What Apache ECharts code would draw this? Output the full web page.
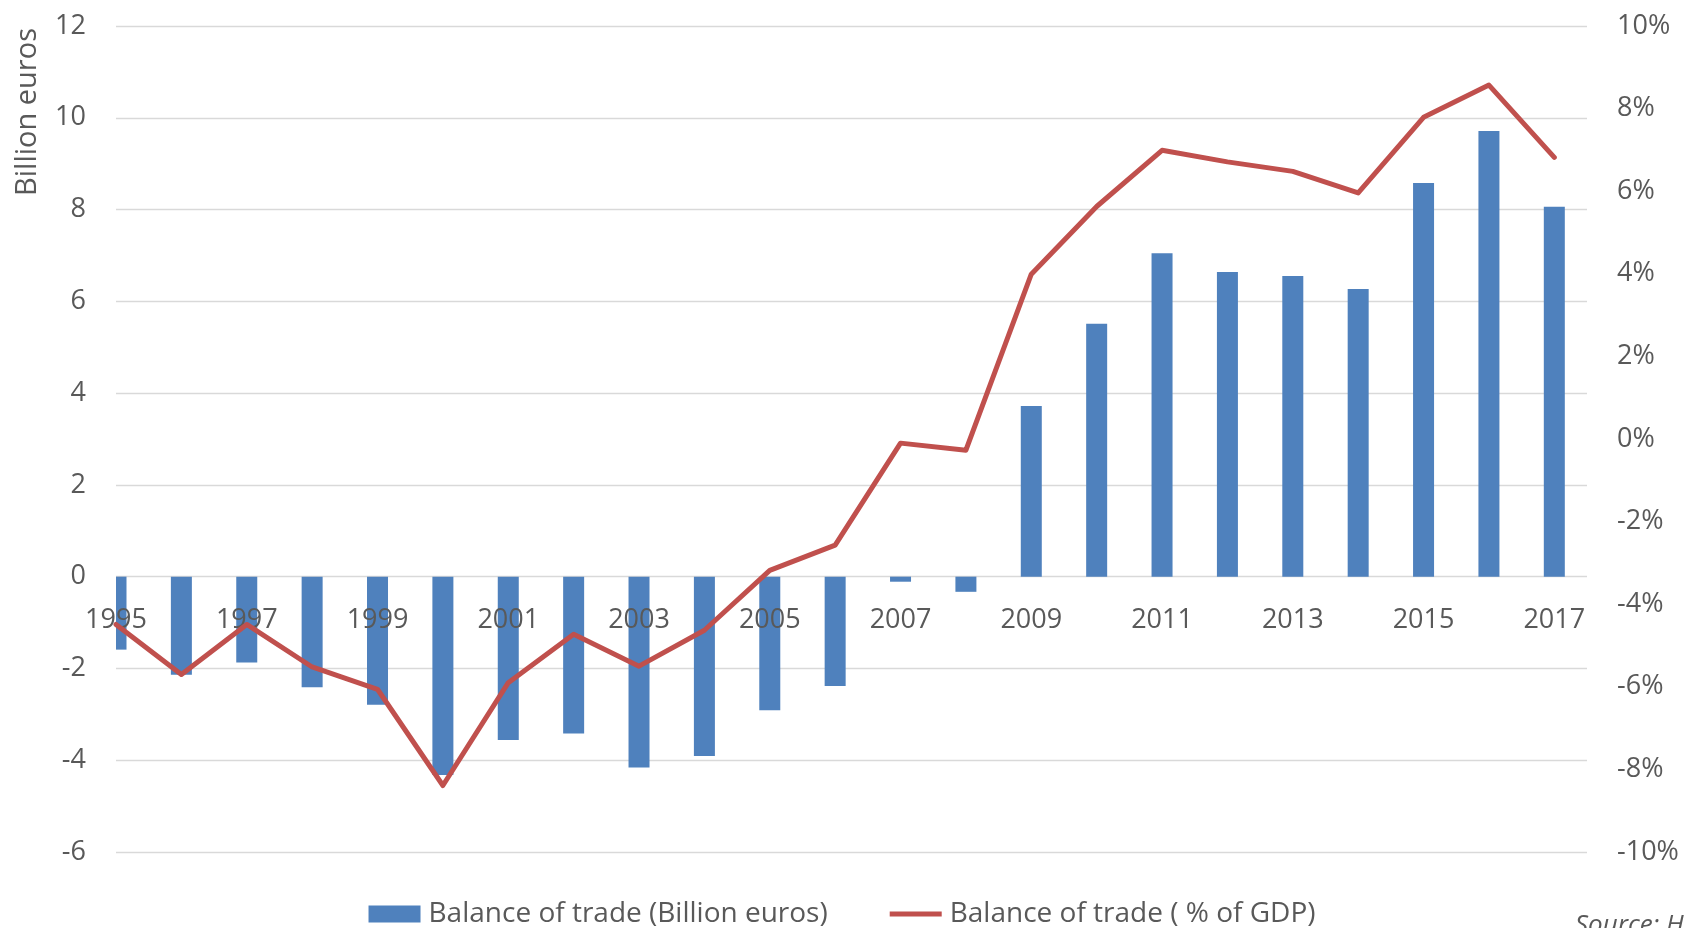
<!DOCTYPE html>
<html>
<head>
<meta charset="utf-8">
<script src="https://cdn.jsdelivr.net/npm/echarts@6/dist/echarts.min.js"></script>
<style>
  html, body { margin: 0; padding: 0; background: #ffffff; }
  #chart { width: 1684px; height: 928px; }
</style>
</head>
<body>
<div id="chart"></div>
<script>
// ---- Data ----
const years = ['1995','1996','1997','1998','1999','2000','2001','2002','2003','2004','2005','2006',
               '2007','2008','2009','2010','2011','2012','2013','2014','2015','2016','2017'];
const tradeBillion = [-1.59, -2.14, -1.87, -2.41, -2.79, -4.32, -3.56, -3.42, -4.16, -3.91, -2.91, -2.38,
                      -0.11, -0.33, 3.72, 5.51, 7.05, 6.64, 6.55, 6.27, 8.58, 9.71, 8.06];
const tradePctGdp = [-4.49, -5.70, -4.49, -5.52, -6.06, -8.39, -5.90, -4.73, -5.50, -4.63, -3.18, -2.57,
                     -0.10, -0.27, 3.99, 5.63, 6.99, 6.71, 6.48, 5.96, 7.79, 8.57, 6.82];
const leftTicks = { min: -6, max: 12, step: 2 };
const rightTicks = { min: -10, max: 10, step: 2 };
const seriesNames = ['Balance of trade (Billion euros)', 'Balance of trade ( % of GDP)'];
const axisName = 'Billion euros';
const sourceText = 'Source: HCSO';

// ---- Chart ----
const FONT = "'Open Sans', sans-serif";
const GREY = '#595959';
const BAR_COLOR = '#4F81BD';
const LINE_COLOR = '#C0504D';
const BAR_W = 21;
const chart = echarts.init(document.getElementById('chart'), null, { renderer: 'canvas' });

const barData = tradeBillion.map((v, i) => [i, v]);
const lineData = tradePctGdp.map((v, i) => [i, v]);

function renderBar(params, api) {
  const x = api.value(0);
  const v = api.value(1);
  const p0 = api.coord([x, 0]);
  const p1 = api.coord([x, v]);
  const rect = {
    x: p0[0] - BAR_W / 2,
    y: Math.min(p0[1], p1[1]),
    width: BAR_W,
    height: Math.abs(p1[1] - p0[1])
  };
  const cs = params.coordSys;
  const clipped = echarts.graphic.clipRectByRect(rect, { x: cs.x, y: cs.y, width: cs.width, height: cs.height });
  if (!clipped) return null;
  return { type: 'rect', shape: clipped, style: { fill: BAR_COLOR } };
}

chart.setOption({
  animation: false,
  backgroundColor: '#ffffff',
  textStyle: { fontFamily: FONT },
  grid: { left: 116, right: 97, top: 26, bottom: 76, containLabel: false },
  xAxis: {
    type: 'value',
    z: 10,
    min: 0,
    max: years.length - 0.5,
    interval: 1,
    axisLine: { show: false, onZero: false },
    axisTick: { show: false },
    splitLine: { show: false },
    axisLabel: {
      margin: 30,
      color: GREY,
      fontSize: 27,
      fontFamily: FONT,
      formatter: function (v) {
        if (Number.isInteger(v) && v % 2 === 0 && v < years.length) return years[v];
        return '';
      }
    }
  },
  yAxis: [
    {
      type: 'value',
      min: leftTicks.min,
      max: leftTicks.max,
      interval: leftTicks.step,
      axisLine: { show: false },
      axisTick: { show: false },
      splitLine: { show: true, lineStyle: { color: '#D9D9D9', width: 1.3 } },
      axisLabel: { margin: 30, color: GREY, fontSize: 27, fontFamily: FONT }
    },
    {
      type: 'value',
      position: 'right',
      min: rightTicks.min,
      max: rightTicks.max,
      interval: rightTicks.step,
      axisLine: { show: false },
      axisTick: { show: false },
      splitLine: { show: false },
      axisLabel: { margin: 30, color: GREY, fontSize: 27, fontFamily: FONT, formatter: '{value}%' }
    }
  ],
  legend: {
    data: [
      { name: seriesNames[0], icon: 'rect' },
      { name: seriesNames[1], icon: 'path://M0,0H52V5H0Z' }
    ],
    left: 'center',
    top: 895,
    itemWidth: 52,
    itemHeight: 17,
    itemGap: 62,
    textStyle: { color: GREY, fontSize: 28, fontFamily: FONT, padding: [0, 0, 0, 3] }
  },
  series: [
    {
      name: seriesNames[0],
      type: 'custom',
      xAxisIndex: 0,
      yAxisIndex: 0,
      data: barData,
      encode: { x: 0, y: 1 },
      renderItem: renderBar,
      itemStyle: { color: BAR_COLOR }
    },
    {
      name: seriesNames[1],
      type: 'line',
      z: 12,
      xAxisIndex: 0,
      yAxisIndex: 1,
      data: lineData,
      symbol: 'none',
      showSymbol: false,
      clip: false,
      lineStyle: { color: LINE_COLOR, width: 5, join: 'round', cap: 'round' },
      itemStyle: { color: LINE_COLOR }
    }
  ],
  graphic: [
    {
      type: 'text',
      x: 28,
      y: 112,
      rotation: Math.PI / 2,
      style: {
        text: axisName,
        fill: GREY,
        font: '29px ' + FONT,
        textAlign: 'center',
        textVerticalAlign: 'middle'
      }
    },
    {
      type: 'text',
      x: 1575,
      y: 913,
      style: {
        text: sourceText,
        fill: GREY,
        font: 'italic 26px ' + FONT,
        textAlign: 'left',
        textVerticalAlign: 'top'
      }
    }
  ]
});

// Place the category labels along the zero line of the left axis (as in the reference)
const zeroPx = chart.convertToPixel({ yAxisIndex: 0 }, 0);
const bottomPx = chart.convertToPixel({ yAxisIndex: 0 }, leftTicks.min);
chart.setOption({ xAxis: { offset: zeroPx - bottomPx } });
</script>
</body>
</html>
